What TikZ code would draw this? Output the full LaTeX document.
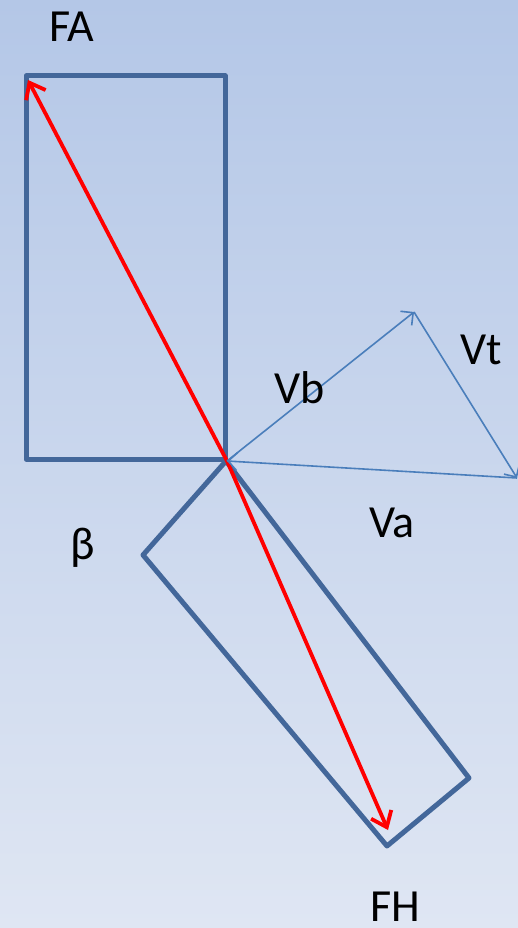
\documentclass[tikz,border=0pt]{standalone}
\usepackage{fontspec}
\setmainfont{Carlito}
\usetikzlibrary{arrows.meta}
\definecolor{bgtop}{HTML}{B4C7E7}
\definecolor{bgbot}{HTML}{DFE6F3}
\definecolor{boxblue}{HTML}{43679A}
\definecolor{vecblue}{HTML}{4A7EBB}
\begin{document}
\begin{tikzpicture}[x=1pt,y=-1pt,
  boxline/.style={draw=boxblue,line width=5pt,line join=round},
  force/.style={draw=red,line width=3.8pt,-{Straight Barb[length=14pt,width=22pt,line width=3.8pt]}},
  vec/.style={draw=vecblue,line width=1.6pt,-{Straight Barb[length=9pt,width=18pt,line width=1.6pt]}},
  lbl/.style={font=\fontsize{46}{54}\selectfont,anchor=base,inner sep=0pt}]
\shade[top color=bgtop,bottom color=bgbot] (0,0) rectangle (518,928);
\useasboundingbox (0,0) rectangle (518,928);
% points
\coordinate (O) at (227,461);
\coordinate (A1) at (26,76);
\coordinate (A2) at (225,76);
\coordinate (A3) at (225,459);
\coordinate (A4) at (26,459);
\coordinate (B1) at (226,461);
\coordinate (B2) at (143,555);
\coordinate (B3) at (387,846);
\coordinate (B4) at (469,778);
\coordinate (FAt) at (28,80);
\coordinate (FHt) at (388,830);
\coordinate (P) at (414,312);
\coordinate (Q) at (517,478);
% boxes
\draw[boxline] (A1) -- (A2) -- (A3) -- (A4) -- cycle;
\draw[boxline] (B1) -- (B2) -- (B3) -- (B4) -- cycle;
% forces
\draw[force] (O) -- (FAt);
\draw[force] (O) -- (FHt);
% velocity triangle
\draw[vec] (O) -- (P);
\draw[vec] (P) -- (Q);
\draw[vec] (Q) -- (O);
% labels
\node[lbl] (fa) at (72,42) {FA};
\node[lbl] (vb) at (300,403) {Vb};
\node[lbl] (vt) at (481,364) {Vt};
\node[lbl] (va) at (392,537) {Va};
\node[lbl] (beta) at (83,559) {β};
\node[lbl] (fh) at (395,921) {FH};
\end{tikzpicture}
\end{document}
